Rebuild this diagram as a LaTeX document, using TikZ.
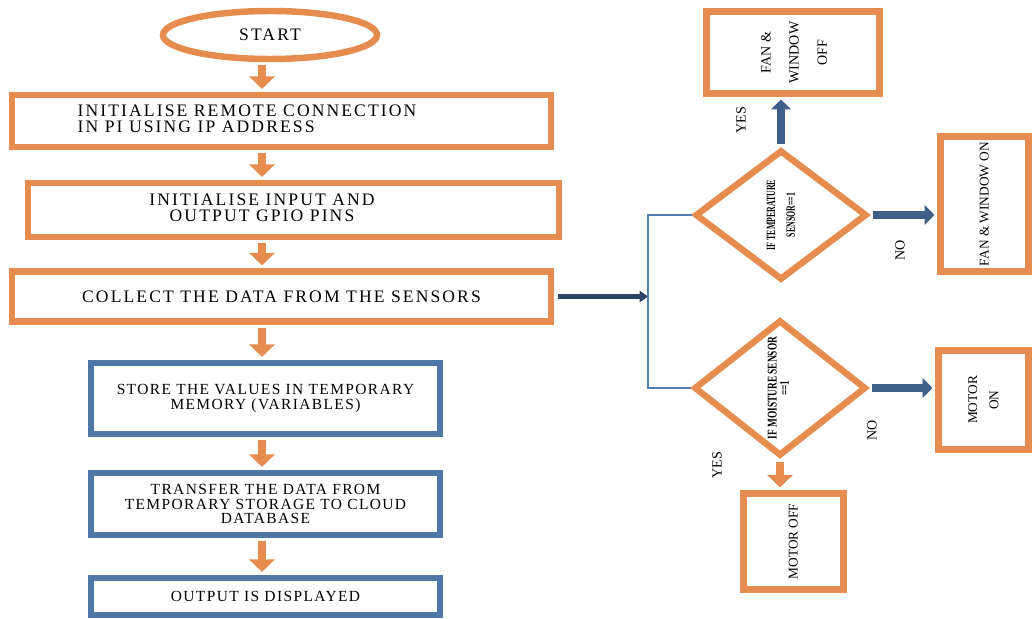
\documentclass[tikz,border=0pt]{standalone}
\usepackage{fontspec}
\setmainfont{Liberation Serif}
\newfontfamily\capsfont[LetterSpace=12]{Liberation Serif}
\newfontfamily\storefont[LetterSpace=9]{Liberation Serif}
\usepackage{tikz}
\usetikzlibrary{shapes.geometric,arrows.meta,positioning,calc}
\definecolor{flowor}{RGB}{230,140,78}
\definecolor{flowbl}{RGB}{79,119,168}
\definecolor{arrbl}{RGB}{62,95,138}
\definecolor{arrnavy}{RGB}{44,68,102}
\definecolor{jointbl}{RGB}{84,126,176}
\newcommand{\vlines}[1]{\rotatebox{90}{\begin{tabular}{@{}c@{}}#1\end{tabular}}}

\begin{document}
\begin{tikzpicture}[x=0.25mm, y=-0.25mm,
  obox/.style={draw=flowor, line width=4.6pt, fill=white, inner sep=0pt, align=center},
  bbox/.style={draw=flowbl, line width=4.6pt, fill=white, inner sep=0pt, align=center, font=\storefont\fontsize{11}{10}\selectfont},
  capsbox/.style={obox, font=\capsfont\fontsize{12.5}{11}\selectfont},
  sidebox/.style={obox, font=\fontsize{9.5}{15}\selectfont},
  decide/.style={diamond, draw=flowor, line width=4.6pt, fill=white, inner sep=0pt, font=\bfseries},
  oarrow/.style={draw=flowor, line width=6pt, shorten <=2pt, shorten >=2pt, -{Triangle[width=18pt,length=9pt]}},
  barrow/.style={draw=arrbl, line width=5.5pt, shorten <=2pt, shorten >=2pt, -{Triangle[width=14pt,length=7pt]}},
  narrow/.style={draw=arrnavy, line width=3.5pt, shorten <=3pt, -{Triangle[width=8pt,length=6pt]}},
  jline/.style={draw=jointbl, line width=2pt},
  lbl/.style={rotate=90, font=\fontsize{10}{12}\selectfont}]
\path[use as bounding box, fill=white] (0,0) rectangle (1034,619);

\node[capsbox, ellipse, minimum width=53.5mm, minimum height=12mm] (start) at (270,35) {START};
\node[capsbox, minimum width=134.75mm, minimum height=13mm] (init1) at (281.5,121)
  {\begin{tabular}{@{}l@{}}INITIALISE REMOTE CONNECTION\\IN PI USING IP ADDRESS\end{tabular}\hspace*{17.25mm}};
\node[capsbox, minimum width=132.75mm, minimum height=13.5mm] (init2) at (293.5,210)
  {\begin{tabular}{@{}c@{}}INITIALISE INPUT AND\\OUTPUT GPIO PINS\end{tabular}\hspace*{15.75mm}};
\node[capsbox, minimum width=134.75mm, minimum height=12.5mm] (collect) at (281.5,296.5) {COLLECT THE DATA FROM THE SENSORS};
\node[bbox, minimum width=87.25mm, minimum height=17.75mm] (store) at (265.5,398.5) {STORE THE VALUES IN TEMPORARY\\MEMORY (VARIABLES)};
\node[bbox, minimum width=87.25mm, minimum height=15.5mm] (transfer) at (265.5,504) {TRANSFER THE DATA FROM\\TEMPORARY STORAGE TO CLOUD\\DATABASE};
\node[bbox, minimum width=87.25mm, minimum height=9.25mm] (output) at (265.5,596.5) {OUTPUT IS DISPLAYED};

\node[decide, minimum width=43mm, minimum height=32.5mm] (tempd) at (781,215)
  {\fontsize{9}{14}\selectfont\vlines{\scalebox{0.62}[1]{IF TEMPERATURE}\\\scalebox{0.62}[1]{SENSOR==1}}};
\node[decide, minimum width=43mm, minimum height=34mm] (moistd) at (780,388)
  {\fontsize{9.5}{8}\selectfont\vlines{\scalebox{0.7}[1]{IF MOISTURE SENSOR}\\\scalebox{0.7}[1]{==1}}};
\node[sidebox, font=\fontsize{10}{20}\selectfont, minimum width=43.25mm, minimum height=20.5mm] (fanoff) at (793,52.5) {\vlines{FAN \&\\WINDOW\\OFF}};
\node[sidebox, minimum width=22mm, minimum height=33.75mm] (fanon) at (984.5,204) {\vlines{FAN \& WINDOW ON}};
\node[sidebox, minimum width=22.5mm, minimum height=24.75mm] (motoron) at (983.5,400) {\vlines{MOTOR\\ON}};
\node[sidebox, minimum width=25mm, minimum height=24mm] (motoroff) at (793.5,541.5) {\vlines{MOTOR OFF}};

\node[lbl] (yest) at (741,120) {YES};
\node[lbl] (not) at (900,250) {NO};
\node[lbl] (nom) at (872,430) {NO};
\node[lbl] (yesm) at (717,465) {YES};

\coordinate (spine) at (262,0);
\coordinate (jn) at (648,0);
\foreach \a/\b in {start/init1,init1/init2,init2/collect,collect/store,store/transfer,transfer/output}
  \draw[oarrow] (\a.south -| spine) -- (\b.north -| spine);
\draw[narrow] (collect.east) -- (collect.east -| jn);
\draw[jline] (tempd.west) -- (tempd.west -| jn) -- (moistd.west -| jn) -- (moistd.west);
\draw[barrow] (tempd.north) -- (tempd.north |- fanoff.south);
\draw[barrow] (tempd.east) -- (tempd.east -| fanon.west);
\draw[barrow] (moistd.east) -- (moistd.east -| motoron.west);
\draw[oarrow] (moistd.south) -- (moistd.south |- motoroff.north);
\end{tikzpicture}
\end{document}
